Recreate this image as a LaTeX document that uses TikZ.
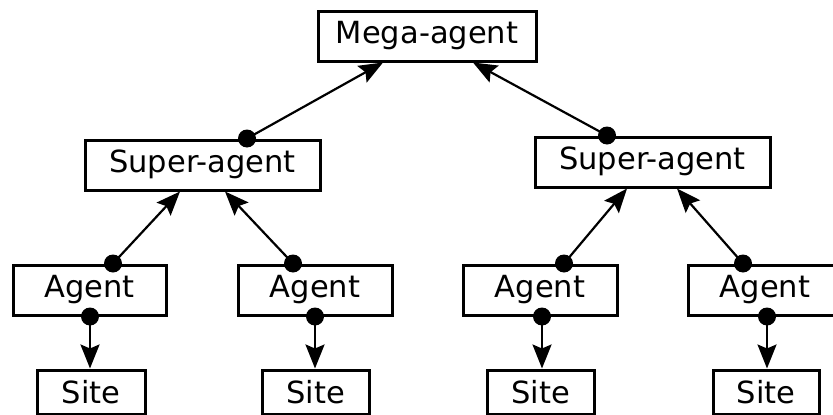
\documentclass[tikz,border=0pt]{standalone}
\usepackage{fontspec}
\setmainfont{DejaVu Sans}
\usetikzlibrary{arrows.meta}
\tikzset{
  box/.style={draw, line width=3pt, inner sep=0pt, minimum height=50pt,
    text height=22pt, text depth=8pt, font=\fontsize{30.5}{34}\selectfont},
  sitebox/.style={box, minimum height=44pt, text height=22pt, text depth=0pt},
  conn/.style={line width=2.2pt, -{Stealth[length=24pt,width=19pt,inset=4pt]}},
  dot/.style={fill=black}
}
\begin{document}
\begin{tikzpicture}[x=1pt,y=-1pt]
\useasboundingbox (0,0) rectangle (833,415);
\clip (0,0) rectangle (833,415);
% nodes
\node[box, minimum width=218pt] (M) at (427,36) {Mega-agent};
\node[box, minimum width=235pt] (SL) at (202.5,165) {Super-agent};
\node[box, minimum width=235pt] (SR) at (652.5,162) {Super-agent};
\node[box, minimum width=153pt] (A1) at (89.5,290) {Agent};
\node[box, minimum width=154pt] (A2) at (315,290) {Agent};
\node[box, minimum width=154pt] (A3) at (540,290) {Agent};
\node[box, minimum width=154pt] (A4) at (765,290) {Agent};
\node[sitebox, minimum width=108pt] (S1) at (91,392) {Site};
\node[sitebox, minimum width=107pt] (S2) at (315.5,392) {Site};
\node[sitebox, minimum width=107pt] (S3) at (540.5,392) {Site};
\node[sitebox, minimum width=106pt] (S4) at (766,392) {Site};
% connector end points
\coordinate (b1) at ([xshift=0.5pt]A1.south);
\coordinate (b2) at (A2.south);
\coordinate (b3) at ([xshift=2pt]A3.south);
\coordinate (b4) at ([xshift=2pt]A4.south);
% super -> mega
\draw[conn] ([xshift=44.5pt]SL.north) -- ([xshift=-44pt]M.south);
\fill[dot] ([xshift=44.5pt]SL.north) circle (9pt);
\draw[conn] ([xshift=-45.5pt]SR.north) -- ([xshift=46pt]M.south);
\fill[dot] ([xshift=-45.5pt]SR.north) circle (9pt);
% agent -> super
\draw[conn] ([xshift=23.5pt]A1.north) -- ([xshift=-22.5pt]SL.south);
\fill[dot] ([xshift=23.5pt]A1.north) circle (9pt);
\draw[conn] ([xshift=-22pt]A2.north) -- ([xshift=22.5pt]SL.south);
\fill[dot] ([xshift=-22pt]A2.north) circle (9pt);
\draw[conn] ([xshift=24pt]A3.north) -- ([xshift=-25.5pt]SR.south);
\fill[dot] ([xshift=24pt]A3.north) circle (9pt);
\draw[conn] ([xshift=-22pt]A4.north) -- ([xshift=24.5pt]SR.south);
\fill[dot] ([xshift=-22pt]A4.north) circle (9pt);
% agent -> site
\draw[conn] (b1) -- (S1.north -| b1);
\fill[dot] (b1) circle (9pt);
\draw[conn] (b2) -- (S2.north -| b2);
\fill[dot] (b2) circle (9pt);
\draw[conn] (b3) -- (S3.north -| b3);
\fill[dot] (b3) circle (9pt);
\draw[conn] (b4) -- (S4.north -| b4);
\fill[dot] (b4) circle (9pt);
\end{tikzpicture}
\end{document}
